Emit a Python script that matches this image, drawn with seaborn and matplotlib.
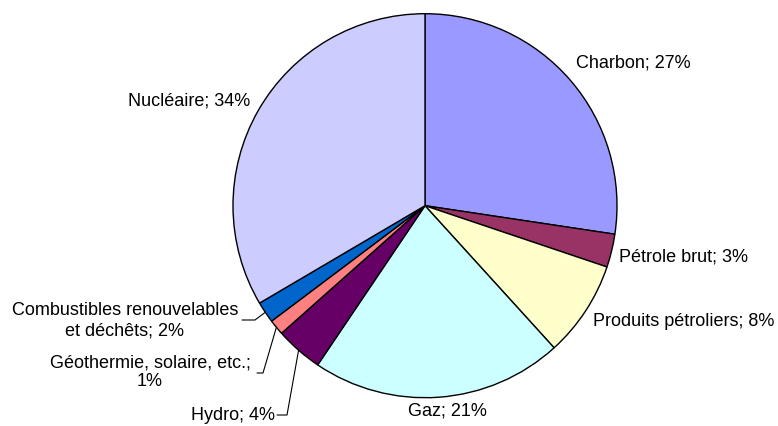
import matplotlib
matplotlib.use("Agg")
import matplotlib.pyplot as plt
import seaborn as sns
import numpy as np

# Données (parts de la production d'électricité)
sources = ["Charbon", "Pétrole brut", "Produits pétroliers", "Gaz", "Hydro",
           "Géothermie, solaire, etc.", "Combustibles renouvelables\net déchêts",
           "Nucléaire"]
parts = [27.4, 2.8, 8.1, 21.2, 4.0, 1.3, 1.8, 33.5]
etiquettes_pct = [27, 3, 8, 21, 4, 1, 2, 34]
couleurs = ["#9999FF", "#993366", "#FFFFCC", "#CCFFFF", "#660066",
            "#FF8080", "#0066CC", "#CCCCFF"]

sns.set_theme(style="white")
plt.rcParams['font.family'] = ['Liberation Sans', 'DejaVu Sans']

W, H = 778, 426
cx, cy, R = 425, 205.7, 192  # centre et rayon en pixels


def px(x, y):
    """Convertir des pixels (origine en haut à gauche) en coordonnées du graphique"""
    return (x - cx) / R, (cy - y) / R


fig = plt.figure(figsize=(W / 100, H / 100), dpi=100)
ax = fig.add_axes([0, 0, 1, 1])

wedges, _ = ax.pie(parts, colors=couleurs, startangle=90, counterclock=False,
                   radius=1, wedgeprops=dict(edgecolor='black', linewidth=1))

# pie() impose ses propres limites : on les remplace après coup
ax.set_aspect('auto')
ax.set_xlim(-cx / R, (W - cx) / R)
ax.set_ylim(-(H - cy) / R, cy / R)
ax.axis('off')

# Étiquettes : (position en px, alignement)
placement = [
    ((576, 63), 'left'),
    ((619, 257), 'left'),
    ((593, 322), 'left'),
    ((447, 411), 'center'),
    ((275, 415), 'right'),
    ((150, 372.5), 'center'),
    ((125, 320.5), 'center'),
    ((128, 101), 'left'),
]
interlignes = {5: 1.15, 6: 1.25}

for i, (nom, pct) in enumerate(zip(sources, etiquettes_pct)):
    (x, y), ha = placement[i]
    texte = f"{nom}; {pct}%"
    if i == 5:
        texte = f"{nom};\n{pct}%"
    ax.text(*px(x, y), texte, ha=ha, va='center', fontsize=13, color='black',
            multialignment='center', linespacing=interlignes.get(i, 1.2))

# Lignes de rappel pour les petites parts
rappels = {6: (242, 255, 320), 5: (257, 263, 373), 4: (277, 287, 415)}
for i, (x0, x1, y) in rappels.items():
    w = wedges[i]
    ang = np.deg2rad((w.theta1 + w.theta2) / 2)
    pts = [px(x0, y), px(x1, y), (np.cos(ang), np.sin(ang))]
    ax.plot([p[0] for p in pts], [p[1] for p in pts], color='black', lw=0.8)

fig.savefig("out.png", dpi=100)
